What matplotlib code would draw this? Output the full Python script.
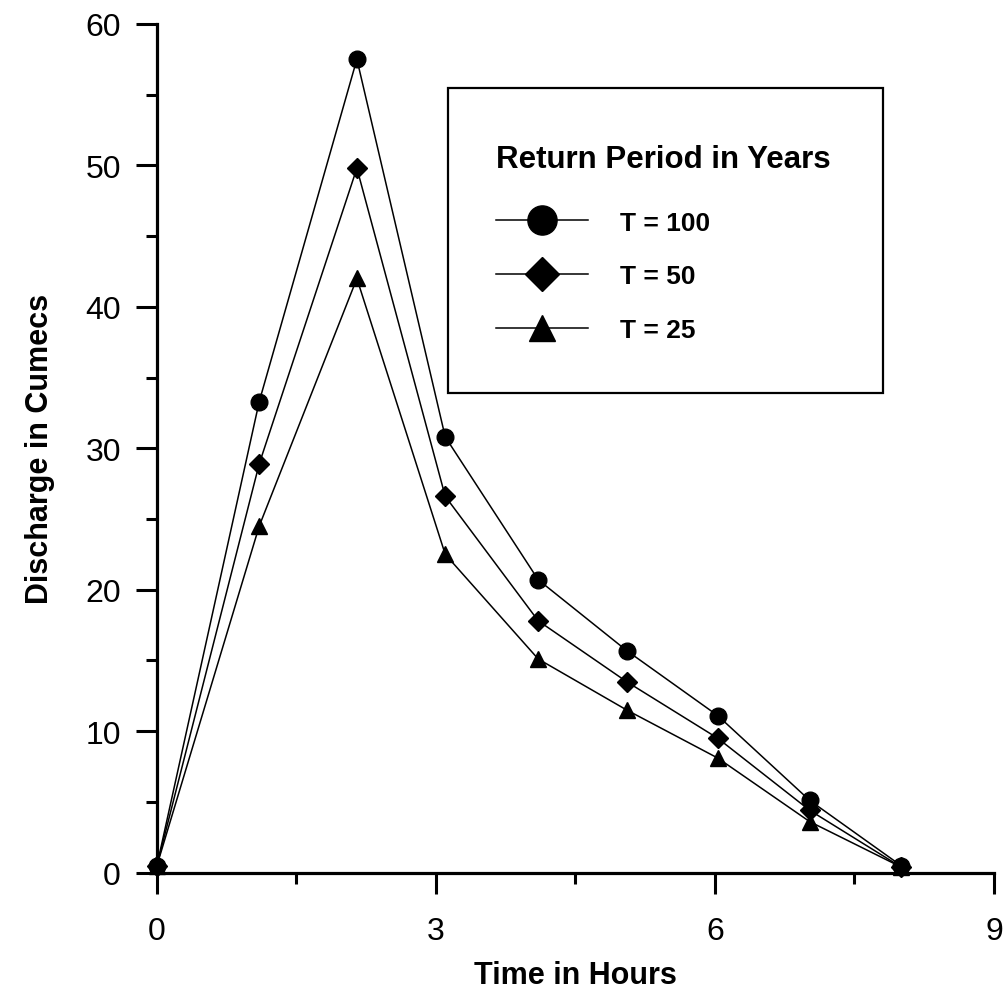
import matplotlib
matplotlib.use('Agg')
import matplotlib.pyplot as plt
from matplotlib.patches import Rectangle
from matplotlib.ticker import MultipleLocator

# ---- data ----
time_h = [0, 1.1, 2.15, 3.1, 4.1, 5.05, 6.03, 7.02, 8.0]
q_t100 = [0.5, 33.3, 57.5, 30.8, 20.7, 15.7, 11.1, 5.1, 0.5]
q_t50 = [0.5, 28.9, 49.8, 26.6, 17.8, 13.5, 9.5, 4.4, 0.4]
q_t25 = [0.5, 24.5, 42.0, 22.5, 15.1, 11.5, 8.1, 3.6, 0.4]
series_labels = ['T = 100', 'T = 50', 'T = 25']
legend_title = 'Return Period in Years'
x_label = 'Time in Hours'
y_label = 'Discharge in Cumecs'
x_ticks = [0, 3, 6, 9]
y_ticks = [0, 10, 20, 30, 40, 50, 60]

plt.rcParams['font.family'] = ['Liberation Sans', 'DejaVu Sans']

fig = plt.figure(figsize=(10.06, 9.95), dpi=100)
ax = fig.add_axes([0.156, 0.122, 0.832, 0.853])

styles = [('o', 12), ('D', 10), ('^', 11)]
for vals, lab, (m, ms) in zip([q_t100, q_t50, q_t25], series_labels, styles):
    ax.plot(time_h, vals, color='black', lw=1.1, marker=m, ms=ms,
            markerfacecolor='black', markeredgecolor='black', label=lab,
            clip_on=False, zorder=3)

ax.set_xlim(0, 9)
ax.set_ylim(0, 60)
ax.set_xticks(x_ticks)
ax.set_yticks(y_ticks)
ax.xaxis.set_minor_locator(MultipleLocator(1.5))
ax.yaxis.set_minor_locator(MultipleLocator(5))
for s in ['top', 'right']:
    ax.spines[s].set_visible(False)
for s in ['left', 'bottom']:
    ax.spines[s].set_linewidth(2.3)
ax.tick_params(which='major', length=15, width=2.2, labelsize=23)
ax.tick_params(which='minor', length=8, width=2.2)
ax.tick_params(axis='x', which='major', pad=16)
ax.tick_params(axis='y', which='major', pad=11)

ax.set_xlabel(x_label, fontsize=22, fontweight='bold', labelpad=10)
ax.set_ylabel(y_label, fontsize=22, fontweight='bold', labelpad=22)

# legend box
ax.add_patch(Rectangle((0.348, 0.565), 0.519, 0.359, transform=ax.transAxes,
                       fill=False, edgecolor='black', lw=1.6, zorder=4))
leg = ax.legend(loc='upper left', bbox_to_anchor=(0.405, 0.858), frameon=False,
                title=legend_title, alignment='left', markerscale=1.75,
                handlelength=3.5, handletextpad=1.2, labelspacing=1.13,
                borderpad=0, borderaxespad=0,
                prop={'size': 19, 'weight': 'bold'},
                title_fontproperties={'size': 22.5, 'weight': 'bold'})
leg._legend_box.sep = 26

fig.savefig('out.png', dpi=100, facecolor='white')
